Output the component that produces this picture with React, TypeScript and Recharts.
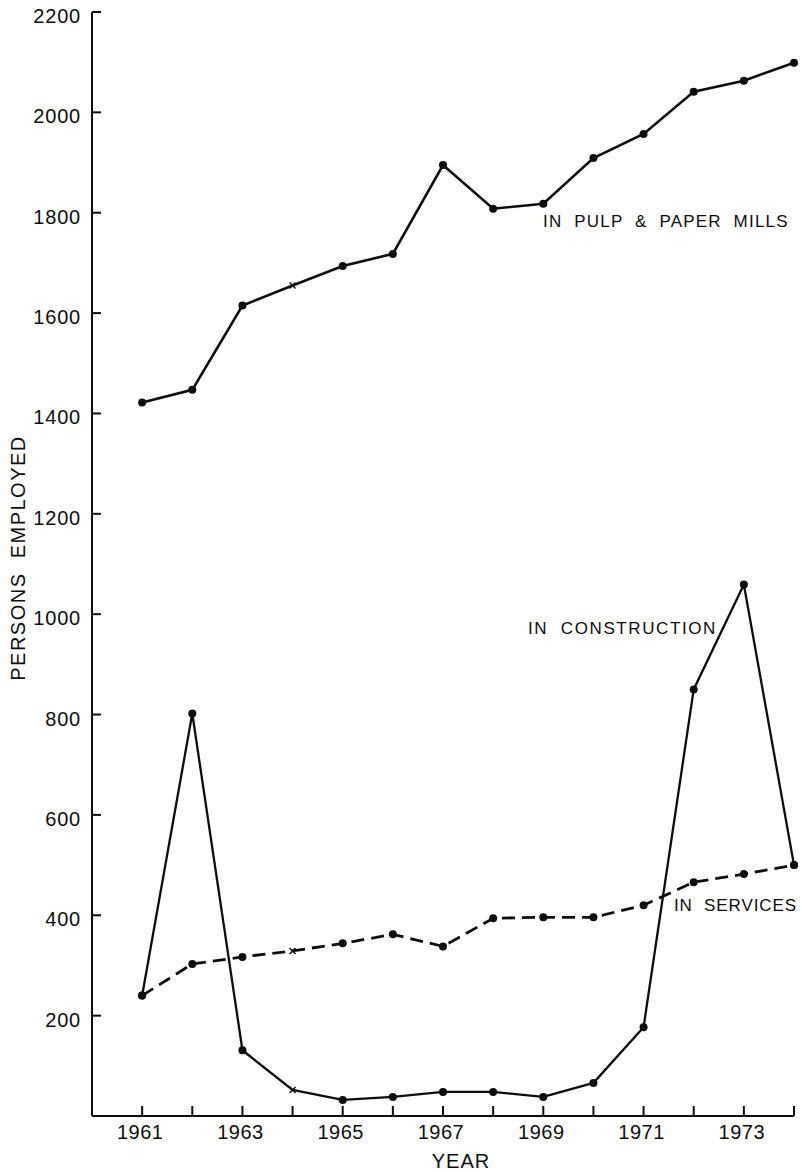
import React from "react";
import { LineChart, Line, XAxis, YAxis, Customized } from "recharts";

const years = [1961, 1962, 1963, 1964, 1965, 1966, 1967, 1968, 1969, 1970, 1971, 1972, 1973, 1974];
const pulpPaper = [1422, 1447, 1615, 1655, 1694, 1718, 1895, 1808, 1818, 1909, 1957, 2041, 2063, 2099];
const construction = [240, 802, 131, 52, 32, 38, 48, 48, 38, 66, 177, 850, 1059, 500];
const services = [240, 303, 317, 329, 344, 362, 338, 394, 396, 396, 420, 466, 482, 500];
const yTicks = [200, 400, 600, 800, 1000, 1200, 1400, 1600, 1800, 2000, 2200];
const xLabelYears = [1961, 1963, 1965, 1967, 1969, 1971, 1973];

const data = years.map((year, i) => ({
  year,
  pulp: pulpPaper[i],
  construction: construction[i],
  services: services[i],
}));

const FONT = "'Liberation Sans', Arial, Helvetica, sans-serif";
const INK = "#0d0d0d";

// filled circle everywhere, small cross at 1964 like the original
function makeDot(name: string) {
  return (props: any) => {
    const { cx, cy, payload, index } = props;
    if (cx == null || cy == null) return <g key={`${name}-${index}`} />;
    if (payload.year === 1964) {
      return (
        <g key={`${name}-${index}`} stroke={INK} strokeWidth={1.4}>
          <line x1={cx - 3} y1={cy - 3} x2={cx + 3} y2={cy + 3} />
          <line x1={cx - 3} y1={cy + 3} x2={cx + 3} y2={cy - 3} />
        </g>
      );
    }
    return <circle key={`${name}-${index}`} cx={cx} cy={cy} r={4} fill={INK} stroke="none" />;
  };
}

function XTick({ x, y, payload }: any) {
  const v = payload.value;
  return (
    <g>
      <line x1={x} y1={y} x2={x} y2={y - 10} stroke={INK} strokeWidth={2} />
      {xLabelYears.includes(v) && (
        <text x={x - 2} y={y + 23} textAnchor="middle" fontFamily={FONT} fontSize={20} fill={INK} letterSpacing={0.5}>
          {v}
        </text>
      )}
    </g>
  );
}

function YTick({ x, y, payload }: any) {
  return (
    <g>
      <line x1={x} y1={y} x2={x + 9} y2={y} stroke={INK} strokeWidth={2} />
      <text x={x - 11} y={y + 11} textAnchor="end" fontFamily={FONT} fontSize={20} fill={INK} letterSpacing={0.8}>
        {payload.value}
      </text>
    </g>
  );
}

function Annotations() {
  const s = { fontFamily: FONT, fontSize: 17, fill: INK, letterSpacing: 1.2 } as const;
  return (
    <g>
      <text x={543} y={227} {...s} xmlSpace="preserve">IN  PULP  &amp;  PAPER  MILLS</text>
      <text x={528} y={634} {...s} letterSpacing={1.6} xmlSpace="preserve">IN  CONSTRUCTION</text>
      <text x={674} y={911} {...s} letterSpacing={0.9} xmlSpace="preserve">IN  SERVICES</text>
      <text x={461} y={1168} textAnchor="middle" fontFamily={FONT} fontSize={20} fill={INK} letterSpacing={1}>
        YEAR
      </text>
      <text
        transform="translate(25,558) rotate(-90)"
        textAnchor="middle"
        fontFamily={FONT}
        fontSize={20}
        fill={INK}
        letterSpacing={1.5}
        xmlSpace="preserve"
      >
        PERSONS  EMPLOYED
      </text>
    </g>
  );
}

export default function App() {
  return (
    <div style={{ position: "absolute", left: 0, top: 0, width: 802, height: 1172, background: "#fff" }}>
      <LineChart width={802} height={1172} data={data} margin={{ top: 12, right: 8, bottom: 0, left: 0 }}>
        <XAxis
          dataKey="year"
          type="number"
          domain={[1960, 1974]}
          ticks={years}
          interval={0}
          height={56}
          tickLine={false}
          tickSize={0}
          tickMargin={0}
          axisLine={{ stroke: INK, strokeWidth: 2 }}
          tick={<XTick />}
        />
        <YAxis
          type="number"
          domain={[0, 2200]}
          ticks={yTicks}
          interval={0}
          width={92}
          tickLine={false}
          tickSize={0}
          tickMargin={0}
          axisLine={{ stroke: INK, strokeWidth: 2 }}
          tick={<YTick />}
        />
        <Line
          dataKey="pulp"
          type="linear"
          stroke={INK}
          strokeWidth={2.6}
          dot={makeDot("pulp")}
          activeDot={false}
          isAnimationActive={false}
        />
        <Line
          dataKey="construction"
          type="linear"
          stroke={INK}
          strokeWidth={2.3}
          dot={makeDot("construction")}
          activeDot={false}
          isAnimationActive={false}
        />
        <Line
          dataKey="services"
          type="linear"
          stroke={INK}
          strokeWidth={2.8}
          strokeDasharray="13 7"
          dot={makeDot("services")}
          activeDot={false}
          isAnimationActive={false}
        />
        <Customized component={<Annotations />} />
      </LineChart>
    </div>
  );
}
